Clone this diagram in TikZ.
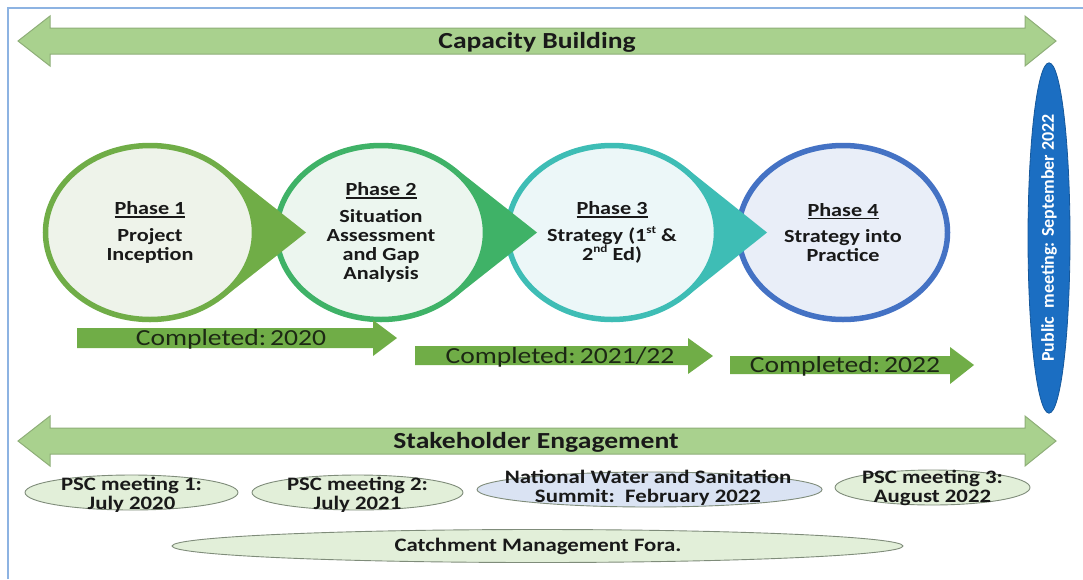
\documentclass[tikz,border=0pt]{standalone}
\usepackage{fontspec}
\setmainfont{Carlito}[FakeStretch=1.2]
\newfontfamily\plainfont{Carlito}
\usetikzlibrary{shapes.geometric}
\definecolor{framebl}{HTML}{8DB3E2}
\definecolor{bandgr}{HTML}{A9D18E}
\definecolor{bandln}{HTML}{8EAE78}
\definecolor{donegr}{HTML}{70AD47}
\definecolor{donetx}{HTML}{1C2814}
\definecolor{oneln}{HTML}{70AD47}
\definecolor{onefl}{HTML}{EEF3EA}
\definecolor{twoln}{HTML}{3FB267}
\definecolor{twofl}{HTML}{ECF6EF}
\definecolor{threeln}{HTML}{3EBDB5}
\definecolor{threefl}{HTML}{ECF7F8}
\definecolor{fourln}{HTML}{4472C4}
\definecolor{fourfl}{HTML}{E9EEF8}
\definecolor{pubbl}{HTML}{1B6EC2}
\definecolor{meetgr}{HTML}{E2EFD9}
\definecolor{meetbl}{HTML}{DAE3F3}
\definecolor{meetln}{HTML}{7F8C7A}
\newcommand{\phasehead}[1]{\setbox0=\hbox{#1}\leavevmode\rlap{\rule[-3pt]{\wd0}{1.4pt}}\box0}
\newcommand{\ordsup}[1]{\raisebox{0.42em}{\fontsize{11}{11}\selectfont #1}}

\begin{document}
\begin{tikzpicture}[x=1pt, y=-1pt,
    band/.style={fill=bandgr, draw=bandln, line width=1pt},
    bandtext/.style={anchor=base, text=black!90, font=\fontsize{23}{24}\selectfont\bfseries},
    done/.style={fill=donegr},
    donetext/.style={anchor=base, text=donetx, font=\fontsize{23}{24}\selectfont},
    phase/.style={ellipse, line width=5.5pt, minimum width=209pt, minimum height=174pt, inner sep=0pt, align=center, text=black!90, font=\fontsize{18.5}{19}\selectfont\bfseries},
    meet/.style={ellipse, draw=meetln, line width=0.9pt, inner sep=0pt},
    meettext/.style={align=center, inner sep=0pt, text=black!90, font=\fontsize{19}{18.5}\selectfont\bfseries}]
    \useasboundingbox (0,0) rectangle (1083,579);
    \draw[framebl, line width=2pt] (8,579) -- (8,8) -- (1083,8);

    \draw[band] (18,41) -- (50,16) -- (50,28) -- (1025,28) -- (1025,16) -- (1056,41) -- (1025,66) -- (1025,54) -- (50,54) -- (50,66) -- cycle;
    \node[bandtext] (capacity) at (537,48) {Capacity Building};

    \node[phase, draw=fourln, fill=fourfl] (ph4) at (843,232.5) {\phasehead{Phase 4}\\[7.5pt]Strategy into\\Practice};
    \fill[threeln] (685,167) -- (767,232.5) -- (685,298) -- cycle;
    \node[phase, draw=threeln, fill=threefl] (ph3) at (612,232.5) {\phasehead{Phase 3}\\[7.5pt]Strategy (1\ordsup{st} \&\\2\ordsup{nd} Ed)};
    \fill[twoln] (454,167) -- (537,232.5) -- (454,298) -- cycle;
    \node[phase, draw=twoln, fill=twofl] (ph2) at (381,232.5) {\phasehead{Phase 2}\\[7.5pt]Situation\\Assessment\\and Gap\\Analysis};
    \fill[oneln] (223,167) -- (306,232.5) -- (223,298) -- cycle;
    \node[phase, draw=oneln, fill=onefl] (ph1) at (150,232.5) {\phasehead{Phase 1}\\[7.5pt]Project\\Inception};

    \fill[done] (77,328) -- (373,328) -- (373,320) -- (397,338) -- (373,356) -- (373,348) -- (77,348) -- cycle;
    \node[donetext] (done1) at (231,345) {Completed:\hspace{4pt}2020};
    \fill[done] (415,346) -- (688,346) -- (688,338) -- (713,356) -- (688,374) -- (688,365) -- (415,365) -- cycle;
    \node[donetext] (done2) at (560,363) {Completed:\hspace{4pt}2021/22};
    \fill[done] (730,356) -- (950,356) -- (950,347) -- (974,365) -- (950,384) -- (950,374) -- (730,374) -- cycle;
    \node[donetext] (done3) at (845,372) {Completed:\hspace{4pt}2022};

    \node[ellipse, fill=pubbl, draw=pubbl!80!black, line width=0.8pt, rotate=90, minimum width=344pt, minimum height=42pt, inner sep=0pt, text=white, font=\plainfont\fontsize{18}{18}\selectfont\bfseries] (public) at (1049,238) {Public\ \ meeting: September 2022};

    \draw[band] (18,441) -- (50,416) -- (50,428) -- (1025,428) -- (1025,416) -- (1056,441) -- (1025,466) -- (1025,454) -- (50,454) -- (50,466) -- cycle;
    \node[bandtext] (stake) at (536,448) {Stakeholder Engagement};

    \node[meet, fill=meetgr, minimum width=213pt, minimum height=35pt] (psc1) at (131.5,492.5) {};
    \node[meettext] (psc1t) at (131.5,495) {PSC meeting 1:\\July 2020};
    \node[meet, fill=meetgr, minimum width=211pt, minimum height=35pt] (psc2) at (357.5,492.5) {};
    \node[meettext] (psc2t) at (357.5,495) {PSC meeting 2:\\July 2021};
    \node[meet, fill=meetbl, minimum width=345pt, minimum height=35pt] (summit) at (649.5,489.5) {};
    \node[meettext] (summitt) at (648,488) {National Water and Sanitation\\Summit:\ \ February 2022};
    \node[meet, fill=meetgr, minimum width=195pt, minimum height=35pt] (psc3) at (932.5,487.5) {};
    \node[meettext] (psc3t) at (932.5,488) {PSC meeting 3:\\August 2022};
    \node[meet, fill=meetgr, minimum width=731pt, minimum height=33pt] (fora) at (537.5,546) {};
    \node[meettext, anchor=base] (forat) at (538,551) {Catchment Management Fora.};
\end{tikzpicture}
\end{document}
